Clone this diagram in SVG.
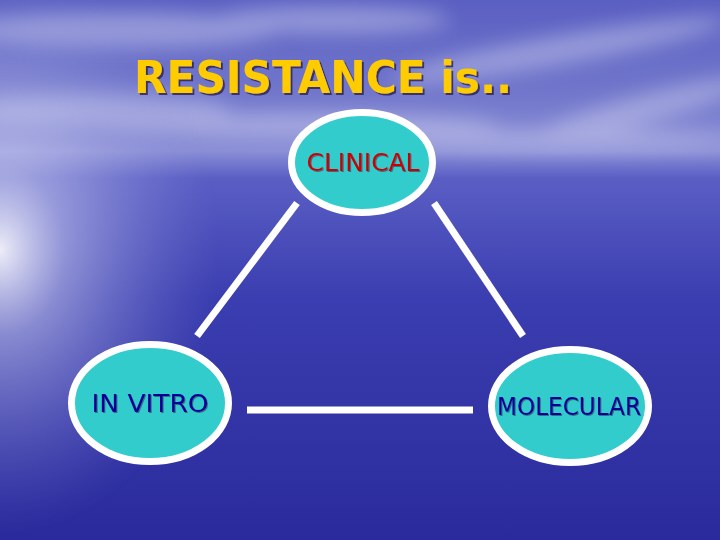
<svg xmlns="http://www.w3.org/2000/svg" width="720" height="540" viewBox="0 0 720 540">
<defs>
<linearGradient id="sky" x1="0" y1="0" x2="0" y2="1">
<stop offset="0" stop-color="#5A5FC2"/>
<stop offset="0.18" stop-color="#7378CC"/>
<stop offset="0.28" stop-color="#8A8ED6"/>
<stop offset="0.33" stop-color="#5A5EC4"/>
<stop offset="0.55" stop-color="#3B3EB0"/>
<stop offset="1" stop-color="#2A2A9C"/>
</linearGradient>
<radialGradient id="glow" cx="0" cy="250" r="220" gradientUnits="userSpaceOnUse" gradientTransform="translate(0 250) scale(1 1.3) translate(0 -250)">
<stop offset="0" stop-color="#FFFFFF" stop-opacity="0.9"/>
<stop offset="0.3" stop-color="#D8DAF4" stop-opacity="0.5"/>
<stop offset="1" stop-color="#8A8EDA" stop-opacity="0"/>
</radialGradient>
<filter id="blur" x="-50%" y="-50%" width="200%" height="200%"><feGaussianBlur stdDeviation="10"/></filter>
<filter id="shadow" x="-10%" y="-10%" width="120%" height="130%"><feDropShadow dx="2" dy="2" stdDeviation="0.6" flood-color="#2A2250" flood-opacity="0.8"/></filter>
<filter id="shadow2" x="-10%" y="-10%" width="120%" height="130%"><feDropShadow dx="1" dy="1" stdDeviation="0.4" flood-color="#303050" flood-opacity="0.6"/></filter>
</defs>
<style>
.node ellipse{fill:#33CCCC;stroke:#FFFFFF;stroke-width:7}
.lbl{font-family:"Comic Sans MS","DejaVu Sans",sans-serif;font-size:25px;text-anchor:middle}
.conn line{stroke:#FFFFFF;stroke-width:7;stroke-linecap:butt}
</style>
<rect width="720" height="540" fill="url(#sky)"/>
<g filter="url(#blur)" fill="#D6D8F2" opacity="0.45">
<ellipse cx="120" cy="30" rx="160" ry="18"/>
<ellipse cx="330" cy="20" rx="120" ry="14"/>
<ellipse cx="560" cy="50" rx="170" ry="14" transform="rotate(-10 560 50)"/>
<ellipse cx="640" cy="110" rx="110" ry="14" transform="rotate(-15 640 110)"/>
<ellipse cx="90" cy="110" rx="140" ry="16"/>
<ellipse cx="300" cy="125" rx="200" ry="12"/>
<ellipse cx="560" cy="140" rx="180" ry="10"/>
</g>
<rect width="720" height="540" fill="url(#glow)"/>
<g id="title">
<text x="323" y="93" font-family="'Comic Sans MS','DejaVu Sans',sans-serif" font-size="45" font-weight="bold" fill="#FFCC00" text-anchor="middle" textLength="378" lengthAdjust="spacingAndGlyphs" filter="url(#shadow)">RESISTANCE is..</text>
</g>
<g id="connectors" class="conn">
<line x1="297" y1="203" x2="197" y2="336"/>
<line x1="434" y1="203" x2="523" y2="336"/>
<line x1="247" y1="410" x2="473" y2="410"/>
</g>
<g id="clinical" class="node">
<ellipse cx="362" cy="162.5" rx="70.5" ry="50"/>
<text class="lbl" x="363" y="171" fill="#CC0000" textLength="113" lengthAdjust="spacingAndGlyphs" filter="url(#shadow2)">CLINICAL</text>
</g>
<g id="invitro" class="node">
<ellipse cx="150" cy="403" rx="78.5" ry="58.5"/>
<text class="lbl" x="150" y="412" fill="#000099" textLength="117" lengthAdjust="spacingAndGlyphs" filter="url(#shadow2)">IN VITRO</text>
</g>
<g id="molecular" class="node">
<ellipse cx="570" cy="406" rx="78.5" ry="56.5"/>
<text class="lbl" x="569" y="415" fill="#000099" textLength="144" lengthAdjust="spacingAndGlyphs" filter="url(#shadow2)">MOLECULAR</text>
</g>
</svg>
